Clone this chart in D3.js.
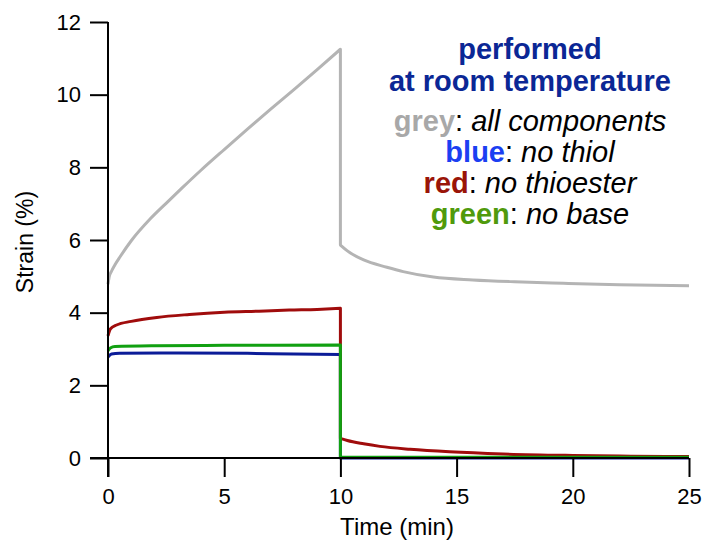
<!DOCTYPE html>
<html>
<head>
<meta charset="utf-8">
<script src="https://cdn.jsdelivr.net/npm/d3@7"></script>
<style>
  html, body { margin: 0; padding: 0; background: #fff; }
  svg { display: block; font-family: "Liberation Sans", Arial, Helvetica, sans-serif; }
</style>
</head>
<body>
<svg id="chart" width="704" height="542"></svg>
<script>
// Creep (0-10 min) and recovery (10-25 min) strain, in %
const greyCreep = [[0,4.78],[0.05,4.98],[0.15,5.14],[0.3,5.32],[0.52,5.54],[1,5.98],[1.8,6.57],[2.5,7.01],[3.2,7.44],[4,7.92],[5,8.49],[6,9.05],[7,9.6],[8,10.14],[9,10.69],[10,11.25]];
const greyRecovery = [[10,5.86],[10.3,5.7],[11,5.45],[12,5.25],[12.7,5.13],[14,4.98],[15.7,4.9],[17.5,4.85],[19.6,4.81],[22,4.77],[25,4.74]];

const redCreep = [[0,3.36],[0.1,3.55],[0.37,3.66],[1,3.76],[2.1,3.87],[3.5,3.95],[5,4.01],[6.5,4.04],[7.8,4.07],[9,4.09],[10,4.12]];
const redRecovery = [[10,0.54],[10.3,0.48],[11,0.39],[11.7,0.32],[13,0.24],[14.7,0.17],[17,0.11],[20,0.07],[22.5,0.05],[25,0.04]];

const blueCreep = [[0,2.78],[0.15,2.86],[0.5,2.88],[3,2.89],[6,2.88],[8,2.86],[10,2.85]];
const blueRecovery = [[10,0.0],[11.6,0.0],[25,0.0]];

const greenCreep = [[0,2.95],[0.1,3.03],[0.3,3.07],[2,3.09],[5,3.1],[10,3.11]];
const greenRecovery = [[10,0.02],[25,0.02]];

const xTicks = [0, 5, 10, 15, 20, 25];
const yTicks = [0, 2, 4, 6, 8, 10, 12];

const legendTitle = ["performed", "at room temperature"];
const legendItems = [
  { key: "grey",  note: "all components", color: "#a8a8a8" },
  { key: "blue",  note: "no thiol",       color: "#1b3ff2" },
  { key: "red",   note: "no thioester",   color: "#9a1408" },
  { key: "green", note: "no base",        color: "#4f9a0c" }
];

const series = [
  { creep: greyCreep,  recovery: greyRecovery,  color: "#b4b4b4" },
  { creep: blueCreep,  recovery: blueRecovery,  color: "#0c1c98" },
  { creep: redCreep,   recovery: redRecovery,   color: "#a00c0c" },
  { creep: greenCreep, recovery: greenRecovery, color: "#11a011" }
];

const svg = d3.select("#chart");
const x = d3.scaleLinear().domain([0, 25]).range([108, 689]);
const y = d3.scaleLinear().domain([0, 12]).range([458, 22]);

// Data lines: creep and recovery joined by the vertical step at 10 min
const line = d3.line().x(d => x(d[0])).y(d => y(d[1])).curve(d3.curveMonotoneX);
svg.append("g").selectAll("path").data(series).join("path")
  .attr("d", s => line(s.creep) + line(s.recovery).replace(/^M/, "L"))
  .attr("fill", "none")
  .attr("stroke", s => s.color)
  .attr("stroke-width", 3)
  .attr("stroke-linejoin", "round");

// Axes
const yAxis = svg.append("g")
  .attr("transform", `translate(${x(0)},0)`)
  .call(d3.axisLeft(y).tickValues(yTicks).tickSize(18).tickSizeOuter(0).tickPadding(9));
const xAxis = svg.append("g")
  .attr("transform", `translate(0,${y(0)})`)
  .call(d3.axisBottom(x).tickValues(xTicks).tickSize(19).tickSizeOuter(0).tickPadding(11));

[yAxis, xAxis].forEach(g => {
  g.select(".domain").remove();
  g.selectAll(".tick line").attr("stroke", "#000").attr("stroke-width", 2);
  g.selectAll(".tick text").attr("fill", "#000").style("font-size", "22px")
    .style("font-family", "'Liberation Sans', Arial, sans-serif");
});
svg.append("line").attr("x1", x(0)).attr("x2", x(0)).attr("y1", y(12)).attr("y2", y(0) + 19)
  .attr("stroke", "#000").attr("stroke-width", 2);
svg.append("line").attr("x1", x(0) - 18).attr("x2", x(25)).attr("y1", y(0)).attr("y2", y(0))
  .attr("stroke", "#000").attr("stroke-width", 2);

// Axis titles
svg.append("text").attr("x", 397).attr("y", 535).attr("text-anchor", "middle")
  .style("font-size", "24px").text("Time (min)");
svg.append("text").attr("transform", "translate(33,242) rotate(-90)").attr("text-anchor", "middle")
  .style("font-size", "23px").text("Strain (%)");

// Legend block
const cx = 530;
legendTitle.forEach((t, i) => {
  svg.append("text").attr("x", cx).attr("y", 59 + i * 32).attr("text-anchor", "middle")
    .attr("fill", "#0b2795").style("font-size", "29px").style("font-weight", "bold").text(t);
});
legendItems.forEach((d, i) => {
  const t = svg.append("text").attr("x", cx).attr("y", 131 + i * 31).attr("text-anchor", "middle")
    .style("font-size", "29px");
  t.append("tspan").attr("fill", d.color).style("font-weight", "bold").text(d.key);
  t.append("tspan").attr("fill", "#000").text(": ");
  t.append("tspan").attr("fill", "#000").style("font-style", "italic").text(d.note);
});
</script>
</body>
</html>
